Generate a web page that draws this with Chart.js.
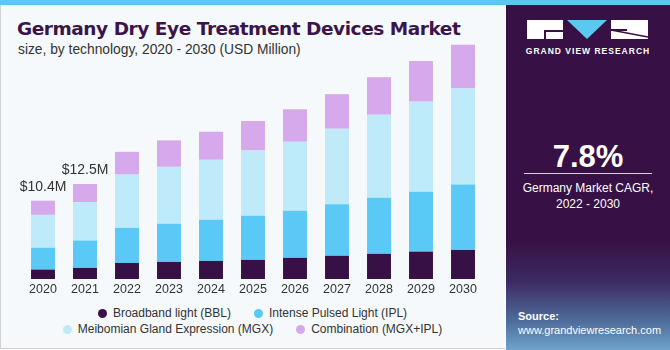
<!DOCTYPE html>
<html>
<head>
<meta charset="utf-8">
<script src="https://cdn.jsdelivr.net/npm/chart.js@4"></script>
<style>
  html, body { margin: 0; padding: 0; }
  body { width: 670px; height: 350px; position: relative; overflow: hidden; background: #fff; font-family: "Liberation Sans", Arial, sans-serif; }
  #stripe { position: absolute; left: 0; top: 0; width: 670px; height: 5px; background: #5BC8F0; }
  #left { position: absolute; left: 0; top: 5px; width: 504px; height: 343px; background: #F5F9FC; border-left: 1px solid #cfd3d6; border-bottom: 1px solid #cfd3d6; }
  #title { position: absolute; left: 16px; top: 13px; font-family: "DejaVu Sans", sans-serif; font-size: 18.5px; font-weight: bold; color: #3B1549; white-space: nowrap; letter-spacing: -0.45px; }
  #subtitle { position: absolute; left: 17px; top: 37px; font-size: 13.8px; color: #333; white-space: nowrap; }
  #chartBox { position: absolute; left: 0; top: 0; width: 505px; height: 303px; }
  #legend { position: absolute; left: 0; top: 305px; width: 505px; font-size: 12px; color: #333; }
  .lrow { display: flex; justify-content: center; gap: 23px; height: 16px; line-height: 16px; }
  .litem { display: flex; align-items: center; white-space: nowrap; }
  .dot { width: 9px; height: 9px; border-radius: 50%; margin-right: 6px; display: inline-block; }
  #right { position: absolute; left: 506px; top: 5px; width: 164px; height: 345px;
    background: linear-gradient(to bottom, #371045 0%, #371045 68%, #3d2a62 80%, #4f6f9c 92%, #6fa3cc 100%); color: #fff; }
  #gvr { position: absolute; left: 0; top: 41px; width: 164px; text-align: center; font-size: 8.5px; font-weight: bold; letter-spacing: 1px; }
  #cagr { position: absolute; left: 0; top: 134px; width: 164px; text-align: center; font-size: 31px; font-weight: bold; }
  #rule { position: absolute; left: 18px; top: 168px; width: 128px; height: 1px; background: #d8cfe0; }
  #cagrTxt { position: absolute; left: 0; top: 175px; width: 164px; text-align: center; font-size: 12px; line-height: 16px; }
  #src { position: absolute; left: 12px; top: 304px; font-size: 11px; line-height: 14px; }
</style>
</head>
<body>
<div id="stripe"></div>
<div id="left">
  <div id="title">Germany Dry Eye Treatment Devices Market</div>
  <div id="subtitle">size, by technology, 2020 - 2030 (USD Million)</div>
</div>
<div id="chartBox"><canvas id="barChart" width="505" height="303"></canvas></div>
<div id="legend"></div>
<div id="right">
  <svg style="position:absolute;left:21px;top:15px" width="122" height="20" viewBox="0 0 122 20">
    <rect x="0" y="0" width="36" height="19" fill="#fff"/>
    <rect x="17" y="10" width="19" height="2" fill="#371045"/>
    <rect x="17" y="10" width="2" height="9" fill="#371045"/>
    <polygon points="40,0 80,0 60,19" fill="#5BC8F0"/>
    <rect x="84" y="0" width="37" height="19" fill="#fff"/>
    <line x1="84" y1="10" x2="121" y2="17" stroke="#371045" stroke-width="1.5"/>
    <rect x="84" y="9" width="16" height="2" fill="#371045"/>
  </svg>
  <div id="gvr">GRAND VIEW RESEARCH</div>
  <div id="cagr">7.8%</div>
  <div id="rule"></div>
  <div id="cagrTxt">Germany Market CAGR,<br>2022 - 2030</div>
  <div id="src"><b>Source:</b><br>www.grandviewresearch.com</div>
</div>
<script>
const years = ['2020', '2021', '2022', '2023', '2024', '2025', '2026', '2027', '2028', '2029', '2030'];
const bbl = [1.25, 1.47, 2.13, 2.27, 2.40, 2.53, 2.80, 3.07, 3.33, 3.64, 3.87];
const ipl = [2.90, 3.64, 4.67, 5.07, 5.47, 5.87, 6.27, 6.84, 7.47, 7.96, 8.67];
const mgx = [4.37, 5.10, 7.07, 7.55, 7.95, 8.67, 9.15, 10.04, 11.01, 11.95, 12.80];
const combo = [1.88, 2.40, 3.01, 3.52, 3.73, 3.91, 4.32, 4.59, 4.99, 5.39, 5.77];
const totalLabels = ['$10.4M', '$12.5M', '', '', '', '', '', '', '', '', ''];

const seriesNames = ['Broadband light (BBL)', 'Intense Pulsed Light (IPL)', 'Meibomian Gland Expression (MGX)', 'Combination (MGX+IPL)'];
const seriesColors = ['#371045', '#5BC9F5', '#BEEAFA', '#D5A9EC'];
const seriesData = [bbl, ipl, mgx, combo];

// labels above the first two stacks
const totalsPlugin = {
    id: 'totals',
    afterDatasetsDraw(chart) {
        const ctx = chart.ctx;
        const top = chart.getDatasetMeta(3);
        ctx.save();
        ctx.font = '14px "Liberation Sans", Arial, sans-serif';
        ctx.fillStyle = '#333';
        ctx.textAlign = 'center';
        ctx.textBaseline = 'middle';
        totalLabels.forEach((t, i) => {
            if (!t) return;
            const bar = top.data[i];
            ctx.fillText(t, bar.x, bar.y - 14);
        });
        ctx.restore();
    }
};

new Chart(document.getElementById('barChart'), {
    type: 'bar',
    data: {
        labels: years,
        datasets: seriesNames.map((name, i) => ({
            label: name,
            data: seriesData[i],
            backgroundColor: seriesColors[i],
            borderWidth: 0,
            categoryPercentage: 1,
            barPercentage: 0.57
        }))
    },
    options: {
        responsive: false,
        animation: false,
        layout: { padding: { left: 22, right: 21, top: 38, bottom: 3 } },
        plugins: {
            legend: { display: false },
            tooltip: { enabled: false }
        },
        scales: {
            x: {
                stacked: true,
                grid: { display: false, drawTicks: false },
                border: { display: false },
                ticks: { color: '#333', padding: 3, font: { size: 12.5, family: '"Liberation Sans", Arial, sans-serif' } }
            },
            y: {
                stacked: true,
                display: false,
                min: 0,
                max: 32
            }
        }
    },
    plugins: [totalsPlugin]
});

// legend, two rows as in the source
const legend = document.getElementById('legend');
[[0, 1], [2, 3]].forEach(row => {
    const r = document.createElement('div');
    r.className = 'lrow';
    row.forEach(i => {
        const it = document.createElement('span');
        it.className = 'litem';
        it.innerHTML = '<span class="dot" style="background:' + seriesColors[i] + '"></span>' + seriesNames[i];
        r.appendChild(it);
    });
    legend.appendChild(r);
});
</script>
</body>
</html>
